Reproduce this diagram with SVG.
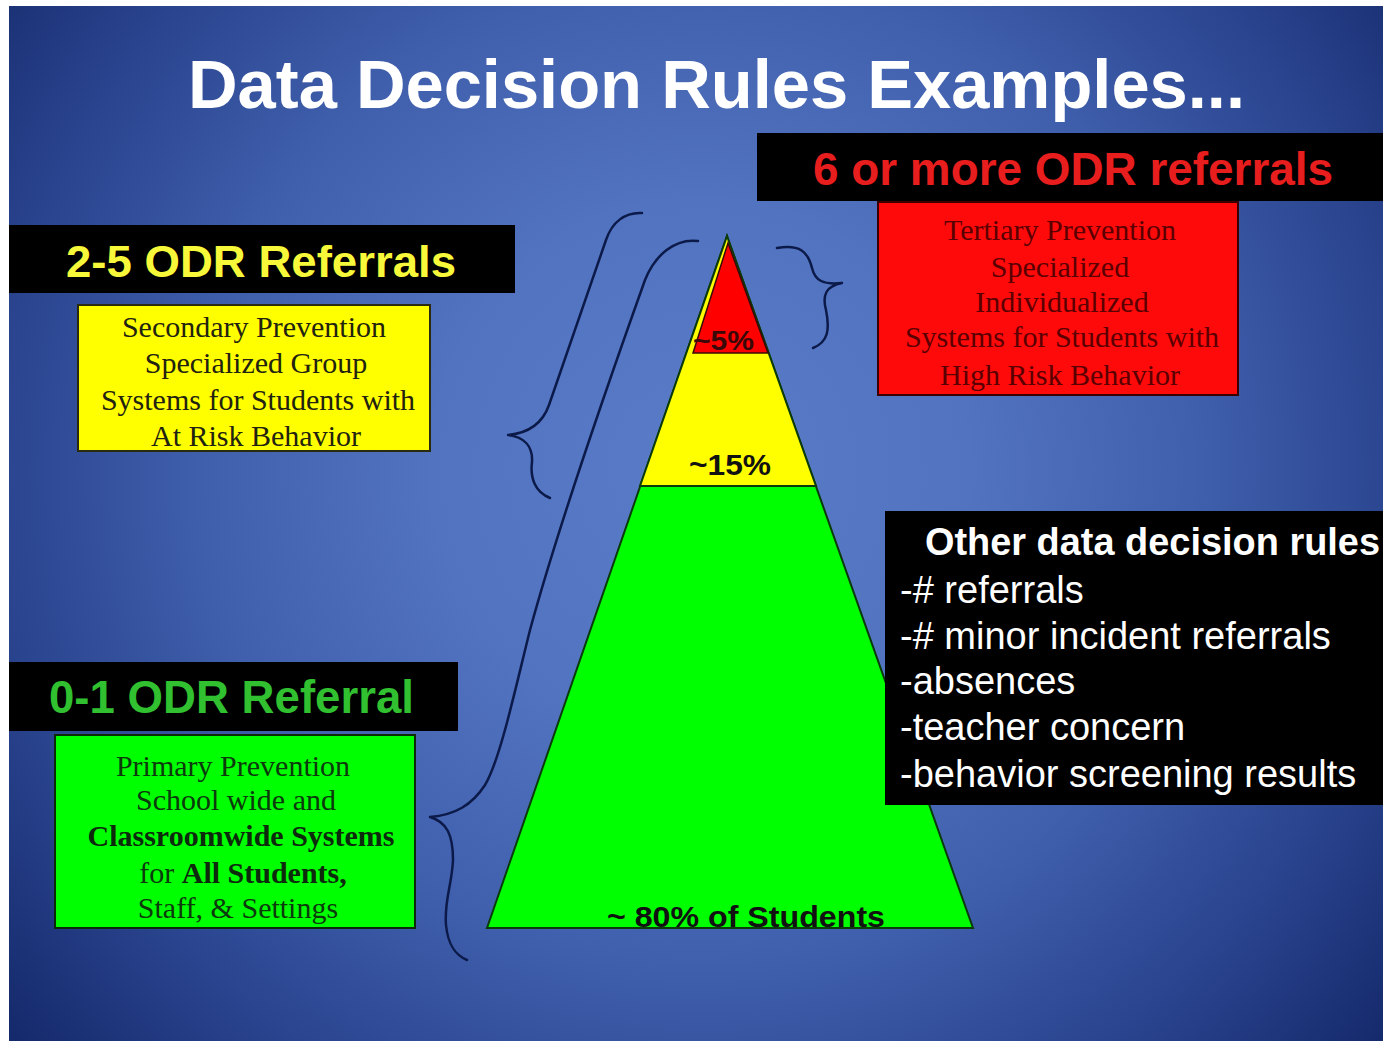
<svg xmlns="http://www.w3.org/2000/svg" width="1383" height="1041" viewBox="0 0 1383 1041">
  <defs>
    <radialGradient id="bg" gradientUnits="userSpaceOnUse" cx="700" cy="470" r="890">
      <stop offset="0" stop-color="#5a7cc8"/>
      <stop offset="0.3" stop-color="#5273c0"/>
      <stop offset="0.55" stop-color="#4060ad"/>
      <stop offset="0.78" stop-color="#2b4590"/>
      <stop offset="1" stop-color="#152a6c"/>
    </radialGradient>
    <style>
      .hdr { font-family: "Liberation Sans", Arial, sans-serif; font-weight: bold; }
      .ser { font-family: "Liberation Serif", "Times New Roman", serif; font-size: 30px; text-anchor: middle; }
      .sans { font-family: "Liberation Sans", Arial, sans-serif; }
      .brace { fill: none; stroke: #0c1a4a; stroke-width: 2.5; stroke-linecap: round; stroke-linejoin: round; }
      .pct { font-family: "Liberation Sans", Arial, sans-serif; font-weight: bold; }
    </style>
  </defs>

  <rect x="0" y="0" width="1383" height="1041" fill="#ffffff"/>
  <rect x="9" y="6" width="1374" height="1035" fill="url(#bg)"/>

  <g id="title">
    <text class="hdr" x="188" y="108" font-size="69" fill="#ffffff" textLength="1057" lengthAdjust="spacingAndGlyphs">Data Decision Rules Examples...</text>
  </g>

  <g id="pyramid">
    <polygon points="727,236 973,928 487,928" fill="#00ff00" stroke="#0b3a0b" stroke-width="2"/>
    <polygon points="727,236 816,486 640,486" fill="#ffff00" stroke="#0b3a0b" stroke-width="2"/>
    <polygon points="728,243 768,353 693,353" fill="#ff0000" stroke="#3a0a0a" stroke-width="1.5"/>
    <text class="pct" x="693" y="350" font-size="28" fill="#3a0808" textLength="61" lengthAdjust="spacingAndGlyphs">~5%</text>
    <text class="pct" x="689" y="475" font-size="30" fill="#111111" textLength="82" lengthAdjust="spacingAndGlyphs">~15%</text>
    <text class="pct" x="607" y="927" font-size="30" fill="#111111" textLength="278" lengthAdjust="spacingAndGlyphs">~ 80% of Students</text>
  </g>

  <g id="tier3-header">
    <rect x="757" y="133" width="626" height="68" fill="#000000"/>
    <text class="hdr" x="813" y="185" font-size="46" fill="#e81e1e" textLength="520" lengthAdjust="spacingAndGlyphs">6 or more ODR referrals</text>
  </g>

  <g id="tier3-box">
    <rect x="878" y="202" width="360" height="193" fill="#ff0a0a" stroke="#3a0000" stroke-width="2"/>
    <text class="ser" x="1060" y="240" fill="#5a0000">Tertiary Prevention</text>
    <text class="ser" x="1060" y="277" fill="#5a0000">Specialized</text>
    <text class="ser" x="1062" y="312" fill="#5a0000">Individualized</text>
    <text class="ser" x="1062" y="347" fill="#5a0000">Systems for Students with</text>
    <text class="ser" x="1060" y="385" fill="#5a0000">High Risk Behavior</text>
  </g>

  <g id="tier2-header">
    <rect x="9" y="225" width="506" height="68" fill="#000000"/>
    <text class="hdr" x="66" y="277" font-size="45" fill="#f8f83a" textLength="390" lengthAdjust="spacingAndGlyphs">2-5 ODR Referrals</text>
  </g>

  <g id="tier2-box">
    <rect x="78" y="305" width="352" height="146" fill="#ffff00" stroke="#2a2a10" stroke-width="2"/>
    <text class="ser" x="254" y="337" fill="#222210">Secondary Prevention</text>
    <text class="ser" x="256" y="373" fill="#222210">Specialized Group</text>
    <text class="ser" x="258" y="410" fill="#222210">Systems for Students with</text>
    <text class="ser" x="256" y="446" fill="#222210">At Risk Behavior</text>
  </g>

  <g id="tier1-header">
    <rect x="9" y="662" width="449" height="69" fill="#000000"/>
    <text class="hdr" x="49" y="713" font-size="46" fill="#30c030" textLength="365" lengthAdjust="spacingAndGlyphs">0-1 ODR Referral</text>
  </g>

  <g id="tier1-box">
    <rect x="55" y="735" width="360" height="193" fill="#00ff00" stroke="#0a2a0a" stroke-width="2"/>
    <text class="ser" x="233" y="776" fill="#0d3a0d">Primary Prevention</text>
    <text class="ser" x="236" y="810" fill="#0d3a0d">School wide and</text>
    <text class="ser" x="241" y="846" fill="#0d2a0d" font-weight="bold">Classroomwide Systems</text>
    <text class="ser" x="243" y="883" fill="#0d3a0d">for <tspan font-weight="bold" fill="#0d2a0d">All Students,</tspan></text>
    <text class="ser" x="238" y="918" fill="#0d3a0d">Staff, &amp; Settings</text>
  </g>

  <g id="other-rules">
    <rect x="885" y="511" width="498" height="294" fill="#000000"/>
    <text class="sans" x="925" y="555" font-size="38" font-weight="bold" fill="#ffffff" textLength="455" lengthAdjust="spacingAndGlyphs">Other data decision rules</text>
    <text class="sans" x="900" y="603" font-size="38" fill="#ffffff">-# referrals</text>
    <text class="sans" x="900" y="649" font-size="38" fill="#ffffff">-# minor incident referrals</text>
    <text class="sans" x="900" y="694" font-size="38" fill="#ffffff">-absences</text>
    <text class="sans" x="900" y="740" font-size="38" fill="#ffffff">-teacher concern</text>
    <text class="sans" x="900" y="787" font-size="38" fill="#ffffff">-behavior screening results</text>
  </g>

  <g id="connectors">
    <path class="brace" d="M777,248 C800,244 808,252 812,268 C815,280 822,285 842,283 C826,286 822,295 826,310 C830,330 828,342 813,348"/>
    <path class="brace" d="M642,213 C625,212 612,222 606,240 L549,405 C543,422 530,433 508,435 C524,437 533,446 532,462 C530,478 535,492 550,498"/>
    <path class="brace" d="M698,241 C675,238 655,255 645,280 C620,350 560,520 530,630 C515,690 500,760 485,785 C472,805 455,815 430,817 C447,822 453,835 453,860 C452,885 444,900 446,925 C448,945 455,955 467,960"/>
  </g>
</svg>
